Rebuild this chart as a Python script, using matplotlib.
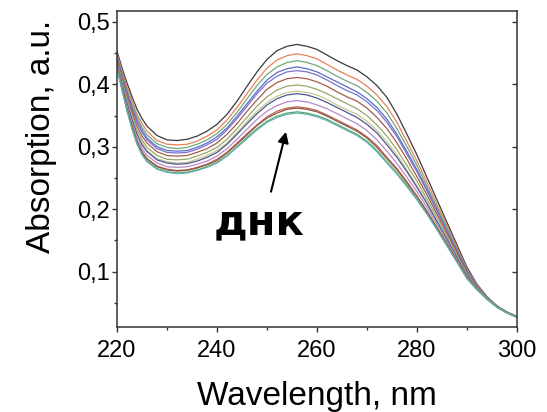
import matplotlib.pyplot as plt
from matplotlib.ticker import MultipleLocator, FuncFormatter

wavelength = [220, 221, 222, 223, 224, 225, 226, 228, 230, 232, 234,
              236, 238, 240, 242, 244, 246, 248, 250, 252, 254, 256,
              258, 260, 262, 264, 266, 268, 270, 272, 274, 276, 278,
              280, 282, 284, 286, 288, 290, 292, 294, 296, 298, 300]

# absorption spectra, from top (highest peak) to bottom
spectra = [
    [.453, .426, .402, .380, .360, .345, .333, .318, .311, .310, .312,
     .317, .325, .336, .352, .373, .397, .420, .440, .454, .461, .464,
     .461, .456, .447, .438, .430, .423, .412, .398, .379, .352, .320,
     .287, .251, .215, .179, .143, .107, .080, .060, .045, .035, .028],
    [.449, .421, .396, .373, .352, .337, .325, .310, .304, .303, .304,
     .309, .317, .327, .343, .363, .385, .407, .426, .439, .446, .449,
     .446, .441, .432, .423, .415, .408, .397, .383, .364, .339, .308,
     .277, .243, .208, .174, .139, .104, .079, .059, .045, .035, .028],
    [.446, .417, .391, .368, .347, .331, .319, .305, .299, .297, .299,
     .304, .311, .321, .336, .355, .377, .398, .416, .428, .435, .438,
     .435, .430, .422, .413, .405, .398, .387, .373, .354, .329, .300,
     .270, .237, .203, .170, .136, .103, .078, .059, .045, .035, .028],
    [.444, .414, .387, .363, .342, .326, .314, .300, .294, .293, .294,
     .299, .306, .316, .330, .349, .369, .389, .407, .419, .425, .428,
     .425, .420, .412, .404, .396, .388, .377, .363, .344, .320, .292,
     .263, .232, .199, .166, .134, .101, .077, .059, .044, .035, .028],
    [.442, .412, .385, .360, .339, .323, .311, .297, .291, .290, .291,
     .296, .303, .312, .327, .345, .365, .385, .402, .413, .420, .422,
     .420, .415, .407, .398, .390, .383, .372, .358, .339, .316, .288,
     .260, .229, .197, .165, .132, .100, .077, .058, .044, .035, .028],
    [.440, .409, .380, .355, .333, .317, .306, .292, .286, .285, .286,
     .291, .297, .306, .320, .337, .357, .375, .392, .403, .409, .411,
     .409, .404, .397, .388, .380, .373, .362, .347, .329, .306, .280,
     .252, .223, .192, .161, .130, .098, .076, .058, .044, .035, .028],
    [.436, .405, .375, .349, .327, .311, .299, .286, .280, .279, .280,
     .285, .291, .299, .312, .329, .347, .365, .380, .391, .397, .399,
     .397, .392, .385, .377, .369, .361, .350, .335, .317, .295, .270,
     .245, .216, .187, .157, .126, .096, .075, .058, .044, .034, .027],
    [.434, .402, .371, .345, .322, .306, .294, .281, .276, .274, .275,
     .280, .286, .294, .306, .323, .340, .357, .371, .381, .387, .389,
     .387, .383, .376, .367, .359, .352, .341, .326, .308, .287, .263,
     .238, .211, .182, .153, .124, .095, .074, .057, .044, .034, .027],
    [.433, .400, .370, .343, .320, .303, .292, .279, .274, .272, .273,
     .277, .283, .291, .304, .320, .337, .353, .367, .377, .383, .385,
     .383, .378, .371, .363, .355, .347, .336, .322, .303, .283, .260,
     .235, .209, .180, .152, .123, .094, .074, .057, .044, .034, .027],
    [.430, .396, .365, .337, .314, .297, .286, .274, .268, .267, .268,
     .272, .277, .285, .297, .312, .328, .344, .357, .366, .372, .374,
     .372, .367, .361, .353, .345, .337, .326, .311, .293, .273, .251,
     .228, .203, .176, .148, .120, .092, .073, .057, .043, .034, .027],
    [.428, .393, .361, .333, .309, .292, .281, .269, .264, .262, .263,
     .267, .272, .280, .291, .306, .321, .335, .348, .357, .362, .364,
     .362, .358, .351, .343, .335, .327, .316, .302, .283, .265, .244,
     .221, .197, .171, .144, .118, .091, .072, .056, .043, .034, .027],
    [.427, .393, .360, .332, .308, .291, .280, .268, .263, .261, .262,
     .266, .271, .278, .290, .304, .319, .334, .346, .354, .360, .362,
     .360, .356, .349, .341, .333, .325, .314, .299, .281, .263, .242,
     .220, .196, .170, .144, .117, .090, .072, .056, .043, .034, .027],
    [.426, .391, .358, .329, .305, .288, .277, .265, .260, .258, .259,
     .263, .268, .275, .286, .300, .315, .329, .341, .349, .354, .356,
     .354, .350, .344, .336, .328, .320, .309, .294, .276, .258, .238,
     .216, .193, .168, .142, .116, .089, .071, .056, .043, .034, .027],
    [.425, .390, .357, .328, .304, .287, .276, .264, .259, .257, .258,
     .262, .267, .274, .285, .299, .313, .327, .339, .347, .352, .354,
     .352, .348, .342, .334, .326, .318, .307, .292, .274, .256, .236,
     .215, .192, .167, .141, .115, .089, .071, .056, .043, .034, .027],
]

colors = ['#3a3a3a', '#e8805a', '#70a878', '#5a6ad0', '#7a72c8', '#a85a48', '#98a868',
          '#c8c890', '#4a5890', '#b888c8', '#c06060', '#8a5a3a', '#58a870', '#60b0b0']

x_ticks = [220, 240, 260, 280, 300]
y_ticks = [0.1, 0.2, 0.3, 0.4, 0.5]
label_text = 'днк'


def main():
    plt.rcParams['font.family'] = ['Liberation Sans', 'DejaVu Sans']
    fig = plt.figure(figsize=(5.47, 4.12), dpi=100)
    ax = fig.add_axes([0.214, 0.206, 0.731, 0.768])

    for values, color in zip(spectra, colors):
        ax.plot(wavelength, values, color=color, lw=0.9)

    ax.set_xlim(220, 300)
    ax.set_ylim(0.011, 0.518)
    ax.set_xticks(x_ticks)
    ax.set_yticks(y_ticks)
    ax.xaxis.set_minor_locator(MultipleLocator(10))
    ax.yaxis.set_minor_locator(MultipleLocator(0.05))
    ax.yaxis.set_major_formatter(FuncFormatter(lambda v, p: f'{v:.1f}'.replace('.', ',')))

    for side in ax.spines.values():
        side.set_linewidth(1.1)
        side.set_color('#333333')
    ax.tick_params(which='major', direction='out', length=3.5, width=1.0,
                   labelsize=17, color='#333333')
    ax.tick_params(axis='x', which='major', pad=5.8)
    ax.tick_params(axis='y', which='major', pad=1.5)
    ax.tick_params(which='minor', direction='out', length=2.2, width=1.0, color='#333333')
    ax.tick_params(axis='y', which='major', right=True)
    ax.tick_params(axis='y', which='minor', right=False)

    # right side ticks point inwards, left side outwards
    for tick in ax.yaxis.get_major_ticks():
        tick.tick2line.set_marker(0)

    ax.set_xlabel('Wavelength, nm', fontsize=24)
    ax.xaxis.set_label_coords(0.5, -0.169)
    ax.set_ylabel('Absorption, a.u.', fontsize=24)
    ax.yaxis.set_label_coords(-0.15, 0.604)

    ax.annotate('', xy=(253.8, 0.324), xytext=(250.8, 0.228),
                arrowprops=dict(arrowstyle='-|>', color='black', lw=1.5,
                                mutation_scale=16, shrinkA=0, shrinkB=0))
    ax.text(239.4, 0.159, label_text, fontsize=30, fontweight='bold',
            family='DejaVu Sans', ha='left', va='baseline')

    fig.savefig('out.png', dpi=100)


if __name__ == '__main__':
    main()
